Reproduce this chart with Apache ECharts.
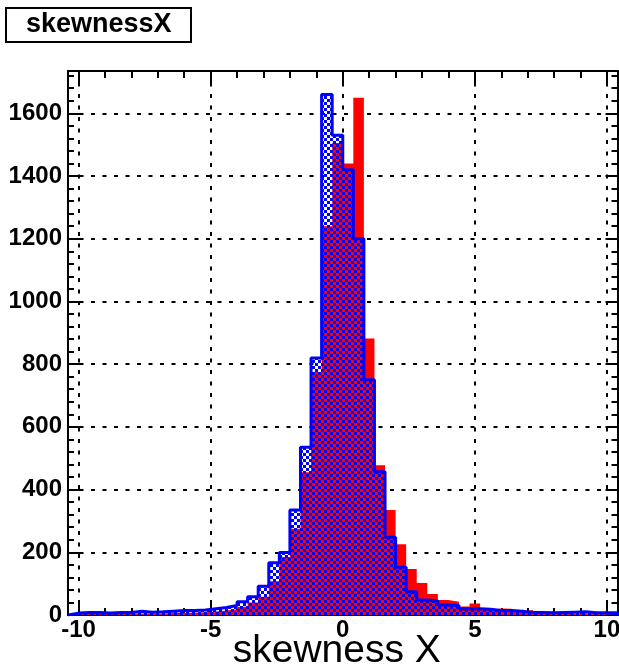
<!DOCTYPE html>
<html>
<head>
<meta charset="utf-8">
<script src="https://cdn.jsdelivr.net/npm/echarts@6/dist/echarts.min.js"></script>
<style>
html,body{margin:0;padding:0;background:#fff;}
#chart{width:619px;height:665px;}
</style>
</head>
<body>
<div id="chart"></div>
<script>
// Histogram binning: 52 bins of width 0.4 from -10.4 to 10.4
var binLow = -10.4;
var binWidth = 0.4;
// Red histogram (filled solid)
var redCounts = [2,3,2,3,3,4,5,5,5,6,7,8,9,11,14,18,26,40,58,108,185,275,455,775,1240,1505,1440,1650,882,478,335,226,147,102,67,48,42,27,37,16,21,20,11,16,8,6,5,4,5,3,3,2];
// Blue histogram (checkered fill with outline)
var blueCounts = [6,8,8,6,8,8,12,9,10,12,14,14,16,20,24,30,42,58,92,167,199,335,535,820,1660,1530,1420,1200,750,457,248,152,74,48,45,32,30,20,20,18,14,14,12,8,8,7,8,9,10,7,7,7];
var xMajor = [-10,-5,0,5,10];
var xMinor = [-10,-9,-8,-7,-6,-5,-4,-3,-2,-1,0,1,2,3,4,5,6,7,8,9,10];
var yMajor = [0,200,400,600,800,1000,1200,1400,1600];
var titleText = 'skewnessX';
var xTitle = 'skewness X';

function stepData(counts){
  var n = counts.length;
  var hi = +(binLow + binWidth*n).toFixed(4);
  var d = [[binLow, 0]];
  for (var k=0;k<n;k++){ d.push([+(binLow + binWidth*k).toFixed(4), counts[k]]); }
  d.push([hi, 0]);
  return d;
}
var xMin = binLow, xMax = +(binLow + binWidth*redCounts.length).toFixed(4);
var yMax = 1735;

// checker pattern
var cs = 3;
var pc = document.createElement('canvas');
pc.width = 2*cs; pc.height = 2*cs;
var pctx = pc.getContext('2d');
pctx.fillStyle = '#0000ff';
pctx.fillRect(0,0,cs,cs);
pctx.fillRect(cs,cs,cs,cs);

var FONT = 'Liberation Sans, Arial, Helvetica, sans-serif';
var black = '#000';
function xAx(pos, ticks, len, extra){
  var a = {type:'value', min:xMin, max:xMax, position:pos,
    axisLine:{show:true, onZero:false, lineStyle:{color:black,width:2}},
    axisTick:{show:true, inside:true, length:len, customValues:ticks, lineStyle:{color:black,width:2}},
    axisLabel:{show:false}, splitLine:{show:false}, minorTick:{show:false}};
  if (extra) for (var k in extra) a[k]=extra[k];
  return a;
}
function yAx(pos, extra){
  var a = {type:'value', min:0, max:yMax, interval:200, position:pos,
    axisLine:{show:true, onZero:false, lineStyle:{color:black,width:2}},
    axisTick:{show:true, inside:true, length:12, customValues:yMajor, lineStyle:{color:black,width:2}},
    minorTick:{show:true, splitNumber:5, length:6, lineStyle:{color:black,width:2}},
    axisLabel:{show:false}, splitLine:{show:false}};
  if (extra) for (var k in extra) a[k]=extra[k];
  return a;
}
var dotted = {show:true, lineStyle:{color:black, width:2, type:[4,7.5]}};

var chart = echarts.init(document.getElementById('chart'), null, {renderer:'canvas'});
chart.setOption({
  animation:false,
  backgroundColor:'#fff',
  title:{text:titleText, left:6, top:8, borderColor:black, borderWidth:2, padding:[4,20,4,20], backgroundColor:'#fff',
    textStyle:{fontFamily:FONT, fontWeight:'bold', fontSize:27, color:black, lineHeight:26}},
  grid:{left:68, top:71, width:549.5, height:544, containLabel:false, outerBoundsMode:'none'},
  xAxis:[
    xAx('bottom', xMajor, 13, {
      axisLabel:{show:true, customValues:xMajor, margin:3, formatter:function(v){return String(v);},
        fontFamily:FONT, fontWeight:'bold', fontSize:24, color:black},
      splitLine:dotted,
      name:xTitle, nameLocation:'middle', nameGap:17, nameMoveOverlap:false,
      nameTextStyle:{fontFamily:FONT, fontSize:39, color:black, verticalAlign:'top', padding:[0,12,0,0]}
    }),
    xAx('bottom', xMinor, 7),
    xAx('top', xMajor, 13),
    xAx('top', xMinor, 7)
  ],
  yAxis:[
    yAx('left', {
      axisLabel:{show:true, customValues:yMajor, margin:6, formatter:function(v){return String(v);},
        fontFamily:FONT, fontWeight:'bold', fontSize:24, color:black},
      splitLine:dotted
    }),
    yAx('right')
  ],
  series:[
    {type:'line', name:'red', xAxisIndex:0, yAxisIndex:0, data:stepData(redCounts), step:'end', symbol:'none',
      lineStyle:{width:0, color:'#ff0000', opacity:0}, areaStyle:{color:'#ff0000', opacity:1}, z:2, silent:true},
    {type:'line', name:'blue', xAxisIndex:0, yAxisIndex:0, data:stepData(blueCounts), step:'end', symbol:'none',
      lineStyle:{width:3, color:'#0000ff'}, areaStyle:{color:{image:pc, repeat:'repeat'}, opacity:1}, z:3, silent:true}
  ]
});
</script>
</body>
</html>
